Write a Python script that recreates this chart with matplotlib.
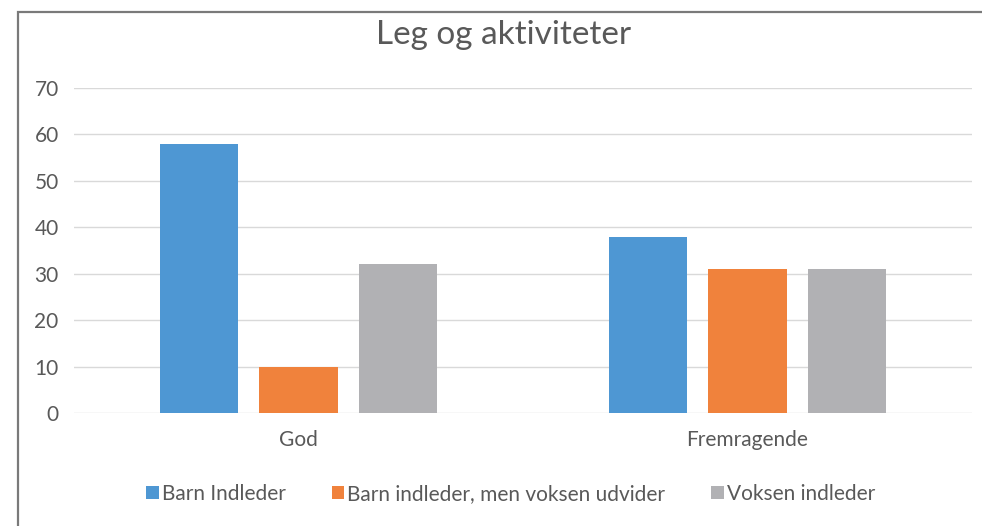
import matplotlib.pyplot as plt
import matplotlib.patches as patches
import numpy as np

plt.rcParams['font.family'] = ['Lato', 'DejaVu Sans']

# data
categories = ['God', 'Fremragende']
series_names = ['Barn Indleder', 'Barn indleder, men voksen udvider', 'Voksen indleder']
barn_indleder = [58, 38]
barn_voksen_udvider = [10, 31]
voksen_indleder = [32, 31]
yticks = [0, 10, 20, 30, 40, 50, 60, 70]

colors = ['#4e97d3', '#f0823c', '#b1b1b4']
text_color = '#595959'


def main():
    fig = plt.figure(figsize=(9.82, 5.26), dpi=100)
    ax = fig.add_axes([74 / 982, 1 - 413 / 526, 898 / 982, (413 - 88) / 526])

    # ramme rundt om figuren (skaaret af til hoejre og nederst)
    frame = patches.Rectangle((18 / 982, -0.05), 1.2, 1 - 12 / 526 + 0.05,
                              transform=fig.transFigure, fill=False,
                              edgecolor='#7a7a7a', linewidth=1.6)
    fig.patches.append(frame)

    x = np.arange(len(categories))
    width = 0.174
    step = 0.222
    all_series = [barn_indleder, barn_voksen_udvider, voksen_indleder]
    for i, (vals, name) in enumerate(zip(all_series, series_names)):
        ax.bar(x + (i - 1) * step, vals, width, color=colors[i], label=name, zorder=3)

    ax.set_xlim(-0.5, 1.5)
    ax.set_ylim(0, 70)
    ax.set_yticks(yticks)
    ax.set_xticks(x)
    ax.set_xticklabels(categories)
    ax.grid(axis='y', color='#d9d9d9', linewidth=1.0, zorder=0)
    for s in ax.spines.values():
        s.set_visible(False)
    ax.tick_params(axis='both', length=0, labelsize=15, labelcolor=text_color)
    ax.tick_params(axis='y', pad=11)
    ax.tick_params(axis='x', pad=12)

    fig.text(0.513, 1 - 35 / 526, 'Leg og aktiviteter', ha='center', va='center',
             fontsize=24, color=text_color)

    ax.legend(loc='center', bbox_to_anchor=(0.52, 1 - 494 / 526), bbox_transform=fig.transFigure,
              ncol=3, frameon=False, fontsize=15, labelcolor=text_color,
              handlelength=0.6, handleheight=0.6, handletextpad=0.15, columnspacing=2.2)

    plt.savefig('out.png', dpi=100)


if __name__ == '__main__':
    main()
